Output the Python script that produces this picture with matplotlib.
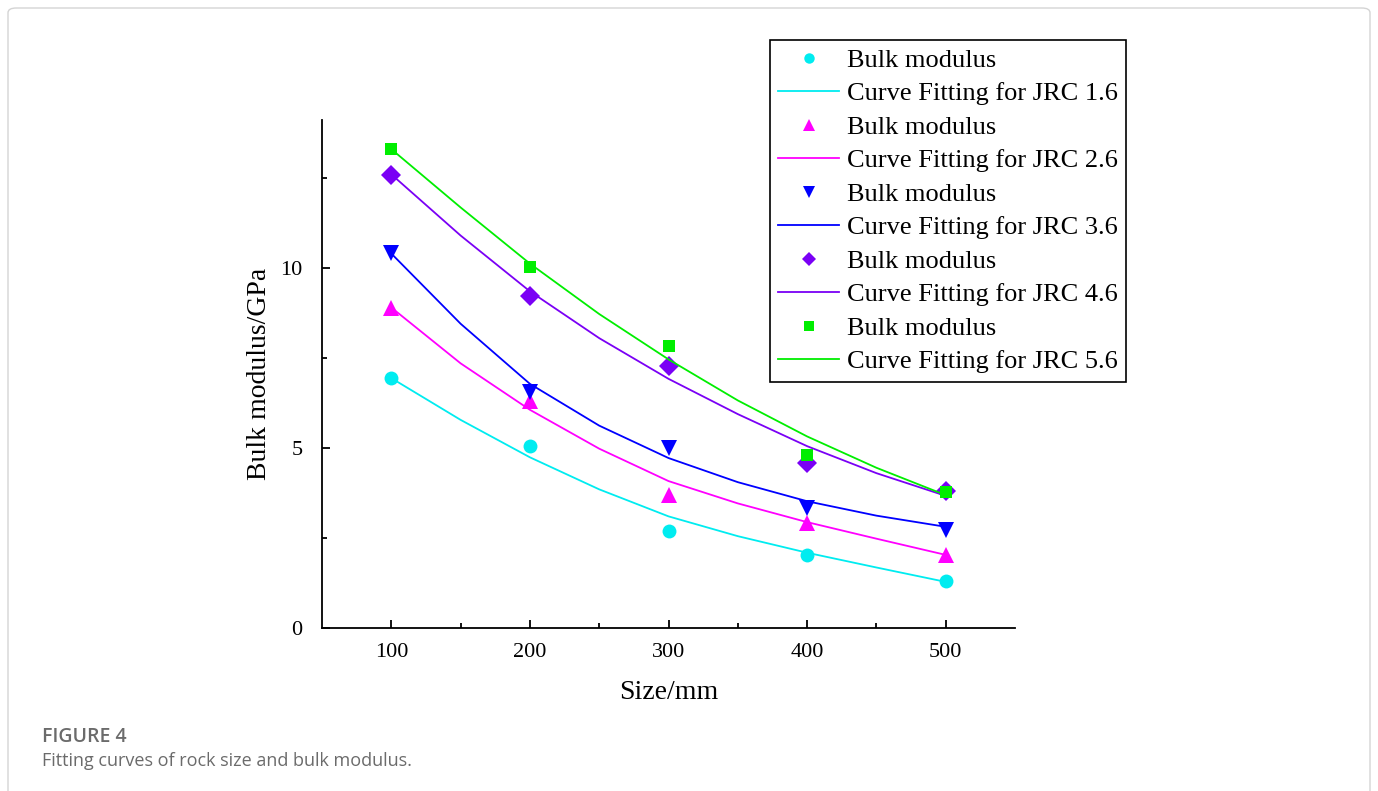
import numpy as np
import matplotlib
matplotlib.use('Agg')
import matplotlib.pyplot as plt
from matplotlib.patches import FancyBboxPatch

# Measured points (Size/mm vs bulk modulus/GPa)
sizes = [100, 200, 300, 400, 500]
jrc_labels = ['1.6', '2.6', '3.6', '4.6', '5.6']
pts_16 = [6.94, 5.06, 2.69, 2.03, 1.31]
pts_26 = [8.89, 6.31, 3.69, 2.92, 2.03]
pts_36 = [10.42, 6.56, 5.00, 3.33, 2.72]
pts_46 = [12.58, 9.22, 7.28, 4.58, 3.81]
pts_56 = [13.31, 10.03, 7.83, 4.81, 3.78]

# Fitted curves
fit_x = [100, 150, 200, 250, 300, 350, 400, 450, 500]
fit_16 = [6.94, 5.78, 4.74, 3.85, 3.10, 2.55, 2.09, 1.68, 1.28]
fit_26 = [8.90, 7.35, 6.06, 4.98, 4.08, 3.46, 2.94, 2.48, 2.03]
fit_36 = [10.40, 8.45, 6.78, 5.62, 4.72, 4.05, 3.52, 3.12, 2.81]
fit_46 = [12.60, 10.90, 9.35, 8.05, 6.92, 5.94, 5.05, 4.30, 3.67]
fit_56 = [13.30, 11.68, 10.12, 8.72, 7.46, 6.32, 5.32, 4.45, 3.69]

colors = ['#00ecf0', '#ff00ff', '#0000ff', '#7a00f5', '#00ee00']
markers = ['o', '^', 'v', 'D', 's']
msizes = [10, 11, 11, 10, 9]

plt.rcParams['font.family'] = ['Liberation Serif', 'DejaVu Serif']

fig = plt.figure(figsize=(13.78, 7.91), dpi=100)
ax = fig.add_axes([0.2337, 0.2061, 0.5029, 0.6422])

points = [pts_16, pts_26, pts_36, pts_46, pts_56]
fits = [fit_16, fit_26, fit_36, fit_46, fit_56]
for i in range(5):
    ax.plot(sizes, points[i], linestyle='none', marker=markers[i], ms=msizes[i],
            color=colors[i], markeredgewidth=0, label='Bulk modulus')
    ax.plot(fit_x, fits[i], color=colors[i], lw=1.3,
            label='Curve Fitting for JRC ' + jrc_labels[i])

ax.set_xlim(50, 550)
ax.set_ylim(0, 14.11)
ax.set_xticks([100, 200, 300, 400, 500])
ax.set_xticks([150, 250, 350, 450], minor=True)
ax.set_yticks([0, 5, 10])
ax.set_yticks([2.5, 7.5, 12.5], minor=True)
ax.spines['top'].set_visible(False)
ax.spines['right'].set_visible(False)
for s in ['left', 'bottom']:
    ax.spines[s].set_linewidth(1.3)
ax.tick_params(which='major', direction='in', length=6, width=1.3, labelsize=16, pad=11)
ax.tick_params(which='minor', direction='in', length=3.5, width=1.3)
ax.tick_params(axis='y', which='major', pad=14)

ax.set_xlabel('Size/mm', fontsize=20, labelpad=13)
ax.set_ylabel('Bulk modulus/GPa', fontsize=20, labelpad=6)

leg = ax.legend(loc='upper left', bbox_to_anchor=(770 / 1378, 1 - 40 / 791),
                bbox_transform=fig.transFigure, fontsize=19, frameon=True,
                fancybox=False, edgecolor='black', framealpha=1,
                handlelength=2.3, handletextpad=0.3, labelspacing=0.38,
                borderpad=0.32, borderaxespad=0, markerscale=0.75)
leg.get_frame().set_linewidth(1.2)

# outer frame and caption
fig.patches.append(FancyBboxPatch((8 / 1378, -0.05), 1362 / 1378, 1.05 - 8 / 791,
                                  boxstyle='round,pad=0,rounding_size=0.006',
                                  transform=fig.transFigure, fill=False,
                                  edgecolor='#d4d4d4', lw=1.0))
fig.text(42 / 1378, 1 - 737 / 791, 'FIGURE 4', fontsize=14, color='#6b6b6b',
         family='Open Sans', weight='semibold', va='center')
fig.text(42 / 1378, 1 - 761 / 791, 'Fitting curves of rock size and bulk modulus.',
         fontsize=13, color='#6b6b6b', family='Open Sans', va='center')

fig.savefig('out.png', dpi=100)
